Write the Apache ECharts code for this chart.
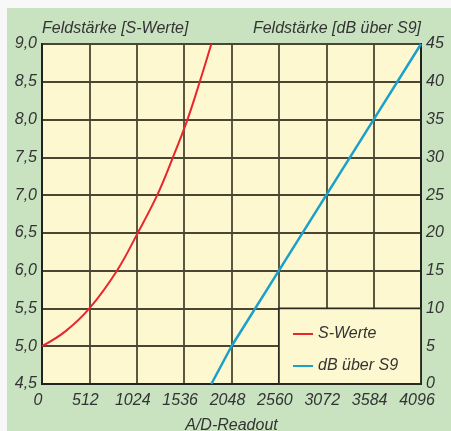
<!DOCTYPE html>
<html><head><meta charset="utf-8">
<script src="https://cdn.jsdelivr.net/npm/echarts@6/dist/echarts.min.js"></script>
<style>
html,body{margin:0;padding:0;background:#f8f8f8;width:451px;height:431px;overflow:hidden}
#c{position:absolute;left:7px;top:8px;width:444px;height:423px}
</style></head>
<body><div id="c"></div>
<script>
// ---- data ----
const xTicks = [0, 512, 1024, 1536, 2048, 2560, 3072, 3584, 4096];
const sWerteX = [0, 256, 512, 810, 1035, 1245, 1415, 1572, 1705, 1830];
const sWerteY = [5.0, 5.2, 5.5, 6.0, 6.5, 7.0, 7.5, 8.0, 8.5, 9.0];
const dbX = [1830, 2048, 2560, 3072, 3584, 4096];
const dbY = [0, 5, 15, 25, 35, 45];
const leftTitle = 'Feldstärke [S-Werte]';
const rightTitle = 'Feldstärke [dB über S9]';
const xTitle = 'A/D-Readout';
const seriesNames = ['S-Werte', 'dB über S9'];

const font = 'Liberation Sans';
const txt = '#333333';
const gridCol = '#4a4632';
const plotBg = '#fdf8cf';
const red = '#e8262e';
const blue = '#1ba0cc';

const chart = echarts.init(document.getElementById('c'));
chart.setOption({
  backgroundColor: '#c9e3c1',
  animation: false,
  textStyle: {fontFamily: font, fontStyle: 'italic'},
  grid: {left: 35, right: 30, top: 36, bottom: 47, show: true, containLabel: false,
         outerBoundsMode: 'none',
         backgroundColor: plotBg, borderColor: '#222', borderWidth: 2},
  legend: {
    data: seriesNames, orient: 'vertical', left: 281, top: 313,
    icon: 'rect', itemWidth: 20, itemHeight: 2, itemGap: 16,
    textStyle: {fontFamily: font, fontStyle: 'italic', fontSize: 16, color: txt}
  },
  xAxis: {
    type: 'value', min: 0, max: 4096, interval: 512,
    name: xTitle, nameLocation: 'middle', nameGap: 34,
    nameTextStyle: {fontFamily: font, fontStyle: 'italic', fontSize: 16, color: txt},
    axisLine: {show: true, lineStyle: {color: '#222', width: 2}},
    axisTick: {show: false},
    axisLabel: {fontFamily: font, fontStyle: 'italic', fontSize: 16, color: txt, margin: 9,
                padding: [0, 8, 0, 0], formatter: v => String(v)},
    splitLine: {show: true, lineStyle: {color: gridCol, width: 1.8}}
  },
  yAxis: [{
    type: 'value', min: 4.5, max: 9, interval: 0.5, position: 'left',
    name: leftTitle, nameLocation: 'end', nameGap: 4,
    nameTextStyle: {fontFamily: font, fontStyle: 'italic', fontSize: 16, color: txt, align: 'left'},
    axisLine: {show: true, lineStyle: {color: '#222', width: 2}},
    axisTick: {show: false},
    axisLabel: {fontFamily: font, fontStyle: 'italic', fontSize: 16, color: txt, margin: 5,
                formatter: v => v.toFixed(1).replace('.', ',')},
    splitLine: {show: true, lineStyle: {color: gridCol, width: 1.8}}
  }, {
    type: 'value', min: 0, max: 45, interval: 5, position: 'right',
    name: rightTitle, nameLocation: 'end', nameGap: 4,
    nameTextStyle: {fontFamily: font, fontStyle: 'italic', fontSize: 16, color: txt, align: 'right'},
    axisLine: {show: true, lineStyle: {color: '#222', width: 2}},
    axisTick: {show: false},
    axisLabel: {fontFamily: font, fontStyle: 'italic', fontSize: 16, color: txt, margin: 5},
    splitLine: {show: false}
  }],
  series: [{
    type: 'line', name: '_box', data: [], z: 1, silent: true,
    markArea: {silent: true,
      itemStyle: {color: plotBg, borderColor: '#2b2a20', borderWidth: 1.8},
      data: [[{xAxis: 2560, yAxis: 4.5}, {xAxis: 4096, yAxis: 5.5}]]}
  }, {
    type: 'line', name: seriesNames[0], yAxisIndex: 0, z: 3,
    data: sWerteX.map((x, i) => [x, sWerteY[i]]),
    smooth: 0.4, symbol: 'none',
    lineStyle: {color: red, width: 2}, itemStyle: {color: red}
  }, {
    type: 'line', name: seriesNames[1], yAxisIndex: 1, z: 3,
    data: dbX.map((x, i) => [x, dbY[i]]),
    symbol: 'none', lineStyle: {color: blue, width: 2.5}, itemStyle: {color: blue}
  }]
});
</script></body></html>
